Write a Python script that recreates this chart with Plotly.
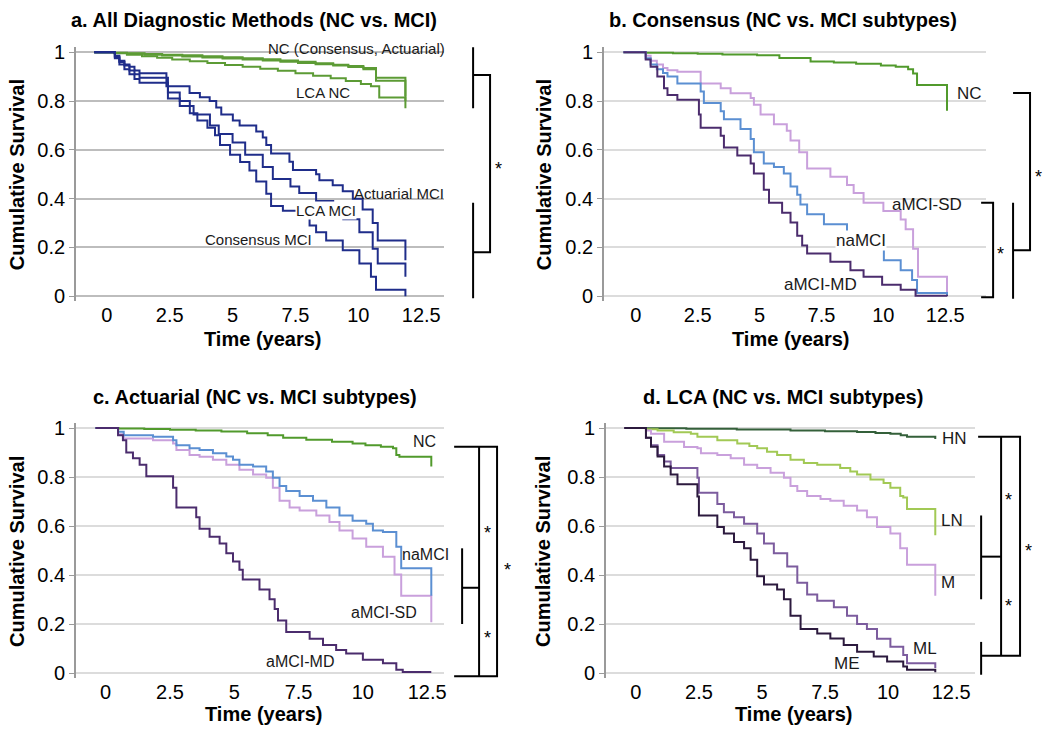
import plotly.graph_objects as go

# ---------------- data (time in years, cumulative survival) ----------------
# Panel a
a_nc_cons_t = [-0.5, 0.3, 0.8, 1.5, 2.2, 3.0, 3.8, 4.6, 5.4, 6.2, 6.9, 7.6, 8.3, 9.0, 9.6, 10.2, 10.7, 11.87]
a_nc_cons_s = [1.0, 0.998, 0.996, 0.993, 0.99, 0.987, 0.983, 0.979, 0.975, 0.971, 0.966, 0.961, 0.955, 0.949, 0.943, 0.935, 0.895, 0.82]
a_nc_act_t = [-0.5, 0.3, 0.8, 1.5, 2.2, 3.0, 3.8, 4.6, 5.4, 6.2, 6.9, 7.6, 8.3, 9.0, 9.6, 10.2, 10.7, 11.87]
a_nc_act_s = [1.0, 0.997, 0.994, 0.99, 0.986, 0.982, 0.978, 0.974, 0.97, 0.966, 0.961, 0.956, 0.951, 0.945, 0.939, 0.93, 0.883, 0.80]
a_nc_lca_t = [-0.5, 0.3, 0.8, 1.4, 2.0, 2.6, 3.3, 4.0, 4.7, 5.4, 6.1, 6.8, 7.5, 8.2, 8.9, 9.5, 10.1, 10.5, 10.83, 11.87]
a_nc_lca_s = [1.0, 0.996, 0.99, 0.983, 0.977, 0.97, 0.963, 0.956, 0.948, 0.94, 0.932, 0.924, 0.914, 0.904, 0.893, 0.882, 0.87, 0.86, 0.814, 0.77]
a_mci_act_t = [-0.5, 0.32, 0.5, 0.7, 0.9, 1.1, 1.3, 2.37, 3.29, 3.7, 4.09, 4.35, 4.55, 5.01, 5.28, 5.94, 6.2, 6.34, 6.53, 7.26, 7.4, 8.32, 8.45, 8.98, 9.38, 9.78, 10.17, 10.57, 10.77, 11.87]
a_mci_act_s = [1.0, 0.98, 0.965, 0.95, 0.94, 0.925, 0.914, 0.86, 0.833, 0.815, 0.80, 0.773, 0.745, 0.72, 0.70, 0.675, 0.65, 0.62, 0.585, 0.551, 0.517, 0.50, 0.475, 0.455, 0.43, 0.40, 0.355, 0.30, 0.228, 0.148]
a_mci_lca_t = [-0.5, 0.32, 0.5, 0.7, 0.9, 1.1, 1.3, 2.43, 2.9, 3.3, 3.45, 4.1, 4.45, 5.0, 5.5, 6.2, 6.6, 7.3, 7.65, 8.32, 9.0, 9.4, 10.04, 10.57, 10.77, 11.87]
a_mci_lca_s = [1.0, 0.985, 0.96, 0.945, 0.925, 0.91, 0.895, 0.835, 0.80, 0.78, 0.745, 0.70, 0.665, 0.63, 0.58, 0.53, 0.48, 0.45, 0.423, 0.39, 0.36, 0.316, 0.262, 0.195, 0.134, 0.08]
a_mci_cons_t = [-0.5, 0.32, 0.5, 0.7, 0.9, 1.1, 1.3, 2.43, 2.9, 3.3, 3.6, 4.0, 4.3, 4.5, 4.9, 5.3, 5.67, 5.94, 6.34, 6.53, 7.0, 7.66, 8.06, 8.32, 8.72, 9.38, 10.04, 10.5, 10.7, 11.87]
a_mci_cons_s = [1.0, 0.975, 0.95, 0.93, 0.91, 0.89, 0.875, 0.81, 0.78, 0.75, 0.72, 0.69, 0.66, 0.62, 0.58, 0.55, 0.515, 0.47, 0.42, 0.37, 0.35, 0.33, 0.29, 0.262, 0.228, 0.188, 0.134, 0.08, 0.027, 0.0]

# Panel b (Consensus)
b_nc_t = [-0.5, 0.4, 1.5, 2.5, 3.5, 4.9, 5.8, 7.06, 8.0, 8.9, 9.9, 10.5, 11.0, 11.2, 11.36, 12.57]
b_nc_s = [1.0, 0.998, 0.996, 0.994, 0.991, 0.987, 0.976, 0.962, 0.958, 0.953, 0.946, 0.94, 0.93, 0.913, 0.866, 0.76]
b_sd_t = [-0.5, 0.4, 0.6, 0.85, 1.1, 1.28, 1.68, 2.62, 3.43, 3.83, 4.64, 4.77, 5.04, 5.58, 6.1, 6.25, 6.6, 6.92, 7.86, 8.53, 8.8, 9.2, 10.0, 10.7, 10.9, 11.2, 11.4, 12.57]
b_sd_s = [1.0, 0.985, 0.965, 0.95, 0.935, 0.926, 0.92, 0.872, 0.852, 0.832, 0.812, 0.785, 0.745, 0.705, 0.678, 0.638, 0.59, 0.523, 0.49, 0.456, 0.423, 0.383, 0.349, 0.315, 0.275, 0.195, 0.08, 0.007]
b_na_t = [-0.5, 0.4, 0.6, 0.85, 1.1, 1.28, 1.68, 2.62, 2.75, 3.43, 3.56, 4.23, 4.64, 4.77, 5.17, 5.58, 5.98, 6.25, 6.52, 6.65, 6.92, 7.6, 8.53, 9.3, 10.02, 10.7, 11.16, 11.36, 12.57]
b_na_s = [1.0, 0.975, 0.95, 0.93, 0.915, 0.9, 0.872, 0.839, 0.792, 0.758, 0.725, 0.685, 0.644, 0.59, 0.544, 0.53, 0.503, 0.45, 0.416, 0.376, 0.336, 0.295, 0.262, 0.195, 0.148, 0.107, 0.067, 0.013, 0.005]
b_md_t = [-0.5, 0.4, 0.6, 0.87, 1.14, 1.28, 1.68, 2.55, 2.62, 3.43, 3.56, 4.1, 4.64, 4.77, 5.17, 5.38, 5.91, 6.25, 6.52, 6.72, 6.92, 7.86, 8.67, 9.2, 9.95, 10.7, 11.3, 12.57]
b_md_s = [1.0, 0.97, 0.94, 0.9, 0.852, 0.825, 0.805, 0.745, 0.69, 0.658, 0.61, 0.577, 0.544, 0.503, 0.436, 0.383, 0.342, 0.302, 0.248, 0.208, 0.175, 0.141, 0.107, 0.08, 0.047, 0.027, 0.002, 0.0]

# Panel c (Actuarial)
c_nc_t = [-0.4, 0.5, 1.5, 2.5, 3.5, 4.5, 5.5, 6.3, 6.9, 7.8, 8.8, 9.6, 10.1, 10.7, 11.17, 11.3, 11.42, 12.66]
c_nc_s = [1.0, 0.998, 0.996, 0.993, 0.99, 0.986, 0.979, 0.97, 0.96, 0.952, 0.944, 0.937, 0.93, 0.924, 0.917, 0.89, 0.883, 0.843]
c_na_t = [-0.4, 0.48, 0.7, 1.84, 2.62, 2.75, 3.26, 3.65, 4.17, 4.69, 4.95, 5.2, 5.73, 6.24, 6.5, 6.76, 7.02, 7.54, 8.06, 8.58, 9.09, 9.6, 10.13, 10.39, 10.78, 11.3, 11.49, 12.66]
c_na_s = [1.0, 0.985, 0.97, 0.964, 0.95, 0.93, 0.917, 0.91, 0.897, 0.884, 0.87, 0.85, 0.843, 0.823, 0.797, 0.763, 0.743, 0.723, 0.703, 0.676, 0.643, 0.622, 0.609, 0.582, 0.576, 0.515, 0.428, 0.315]
c_sd_t = [-0.4, 0.48, 0.7, 1.84, 2.62, 2.75, 3.26, 3.65, 4.17, 4.69, 5.2, 5.73, 6.24, 6.5, 6.76, 7.15, 7.54, 8.19, 8.7, 9.09, 9.6, 10.13, 10.78, 11.23, 11.49, 12.66]
c_sd_s = [1.0, 0.975, 0.957, 0.95, 0.937, 0.91, 0.89, 0.883, 0.87, 0.85, 0.83, 0.81, 0.797, 0.756, 0.703, 0.676, 0.663, 0.643, 0.616, 0.582, 0.549, 0.515, 0.475, 0.402, 0.315, 0.207]
c_md_t = [-0.4, 0.48, 0.67, 0.8, 1.06, 1.32, 1.58, 2.62, 2.75, 3.52, 3.65, 4.04, 4.43, 4.69, 4.95, 5.2, 5.33, 5.98, 6.37, 6.57, 6.7, 7.02, 7.93, 8.45, 8.96, 9.35, 10.0, 10.78, 11.3, 11.55, 12.66]
c_md_s = [1.0, 0.97, 0.95, 0.9, 0.877, 0.85, 0.803, 0.756, 0.676, 0.636, 0.589, 0.556, 0.529, 0.489, 0.455, 0.422, 0.382, 0.341, 0.301, 0.261, 0.214, 0.167, 0.14, 0.114, 0.094, 0.08, 0.054, 0.04, 0.013, 0.004, 0.004]

# Panel d (LCA)
d_hn_t = [-0.46, 0.4, 2.0, 4.0, 6.13, 7.5, 8.77, 9.5, 10.09, 10.5, 10.75, 11.87]
d_hn_s = [1.0, 0.999, 0.997, 0.994, 0.99, 0.987, 0.984, 0.98, 0.977, 0.97, 0.964, 0.955]
d_ln_t = [-0.46, 0.4, 0.86, 1.5, 2.18, 2.44, 3.23, 4.02, 4.5, 4.81, 5.2, 5.6, 6.13, 6.66, 7.19, 8.1, 8.5, 8.77, 9.3, 9.82, 10.09, 10.48, 10.6, 10.75, 11.87]
d_ln_s = [1.0, 0.995, 0.99, 0.983, 0.977, 0.964, 0.95, 0.937, 0.927, 0.917, 0.903, 0.89, 0.87, 0.857, 0.85, 0.837, 0.823, 0.81, 0.79, 0.776, 0.756, 0.723, 0.716, 0.669, 0.562]
d_m_t = [-0.46, 0.4, 0.6, 1.12, 1.91, 2.44, 2.58, 3.23, 3.76, 4.29, 4.81, 5.34, 5.87, 6.13, 6.4, 6.79, 7.32, 7.71, 8.24, 8.77, 9.16, 9.56, 10.09, 10.48, 10.75, 11.87]
d_m_s = [1.0, 0.99, 0.977, 0.944, 0.923, 0.917, 0.897, 0.89, 0.877, 0.85, 0.837, 0.817, 0.797, 0.763, 0.743, 0.723, 0.71, 0.703, 0.683, 0.663, 0.636, 0.596, 0.569, 0.509, 0.442, 0.315]
d_ml_t = [-0.46, 0.4, 0.6, 0.86, 1.12, 1.38, 2.44, 2.5, 3.23, 3.49, 3.89, 4.29, 4.81, 5.08, 5.47, 6.0, 6.4, 6.79, 7.19, 7.85, 8.37, 8.77, 9.16, 9.56, 10.09, 10.6, 10.75, 11.87]
d_ml_s = [1.0, 0.96, 0.93, 0.89, 0.863, 0.837, 0.797, 0.736, 0.69, 0.656, 0.636, 0.609, 0.569, 0.529, 0.489, 0.435, 0.368, 0.321, 0.295, 0.268, 0.234, 0.2, 0.18, 0.14, 0.107, 0.074, 0.04, 0.02]
d_me_t = [-0.46, 0.4, 0.6, 0.86, 1.12, 1.38, 1.65, 2.44, 2.5, 3.23, 3.49, 3.89, 4.29, 4.55, 4.81, 5.08, 5.6, 5.87, 6.13, 6.53, 7.19, 7.71, 8.24, 8.77, 9.43, 9.96, 10.6, 10.75, 11.87]
d_me_s = [1.0, 0.96, 0.924, 0.884, 0.843, 0.81, 0.77, 0.72, 0.643, 0.596, 0.569, 0.535, 0.509, 0.462, 0.395, 0.361, 0.341, 0.301, 0.234, 0.18, 0.161, 0.141, 0.114, 0.087, 0.067, 0.047, 0.027, 0.013, 0.003]

x_tickvals = [0, 2.5, 5, 7.5, 10, 12.5]
x_ticktext = ["0", "2.5", "5", "7.5", "10", "12.5"]
y_tickvals = [0, 0.2, 0.4, 0.6, 0.8, 1.0]
y_ticktext = ["0", "0.2", "0.4", "0.6", "0.8", "1"]

titles = ["a. All Diagnostic Methods (NC vs. MCI)", "b. Consensus (NC vs. MCI subtypes)",
          "c. Actuarial (NC vs. MCI subtypes)", "d. LCA (NC vs. MCI subtypes)"]

# colours
GREEN_A = "#5c9b35"
BLUE_A = "#1f2d8a"
GREEN = "#519a2c"
LPURP = "#c9a0dc"
LBLUE = "#5b8fd2"
DPURP = "#4b2c6d"
HN_C = "#34603a"
LN_C = "#a2c955"
ML_C = "#7c5c9e"
ME_C = "#2c1a3e"

FONT = "Liberation Sans, Arial, Helvetica, sans-serif"
W, H = 1050, 740

fig = go.Figure()

series = [
    ("x", "y", a_nc_cons_t, a_nc_cons_s, GREEN_A),
    ("x", "y", a_nc_act_t, a_nc_act_s, GREEN_A),
    ("x", "y", a_nc_lca_t, a_nc_lca_s, GREEN_A),
    ("x", "y", a_mci_act_t, a_mci_act_s, BLUE_A),
    ("x", "y", a_mci_lca_t, a_mci_lca_s, BLUE_A),
    ("x", "y", a_mci_cons_t, a_mci_cons_s, BLUE_A),
    ("x2", "y2", b_nc_t, b_nc_s, GREEN),
    ("x2", "y2", b_sd_t, b_sd_s, LPURP),
    ("x2", "y2", b_na_t, b_na_s, LBLUE),
    ("x2", "y2", b_md_t, b_md_s, DPURP),
    ("x3", "y3", c_nc_t, c_nc_s, GREEN),
    ("x3", "y3", c_sd_t, c_sd_s, LPURP),
    ("x3", "y3", c_na_t, c_na_s, LBLUE),
    ("x3", "y3", c_md_t, c_md_s, DPURP),
    ("x4", "y4", d_hn_t, d_hn_s, HN_C),
    ("x4", "y4", d_ln_t, d_ln_s, LN_C),
    ("x4", "y4", d_m_t, d_m_s, LPURP),
    ("x4", "y4", d_ml_t, d_ml_s, ML_C),
    ("x4", "y4", d_me_t, d_me_s, ME_C),
]
for xa, ya, t, s, col in series:
    fig.add_trace(go.Scatter(x=t, y=s, mode="lines", line=dict(color=col, width=2, shape="hv"),
                             xaxis=xa, yaxis=ya, showlegend=False, hoverinfo="skip"))

# axis geometry (pixel positions of plot areas)
panels = {
    # name: (left px, right px, xmin, xmax, top px, bottom px, grid colour)
    "1": (76, 445, -1.23, 13.41, 42, 300, "#bdbdbd"),
    "2": (605, 988, -1.29, 14.15, 42, 300, "#dcdcdc"),
    "3": (76, 445, -1.16, 13.16, 424, 683, "#dcdcdc"),
    "4": (607, 977, -1.19, 13.45, 424, 683, "#dcdcdc"),
}
layout = {}
for k, (l, r, xmin, xmax, t, b, gc) in panels.items():
    xn = "xaxis" if k == "1" else f"xaxis{k}"
    yn = "yaxis" if k == "1" else f"yaxis{k}"
    xid = "x" if k == "1" else f"x{k}"
    yid = "y" if k == "1" else f"y{k}"
    layout[xn] = dict(domain=[l / W, r / W], range=[xmin, xmax], anchor=yid,
                      tickvals=x_tickvals, ticktext=x_ticktext, showgrid=False, zeroline=False,
                      showline=False, ticks="", tickfont=dict(size=20, color="black", family=FONT))
    layout[yn] = dict(domain=[1 - b / H, 1 - t / H], range=[-0.02, 1.02], anchor=xid,
                      tickvals=y_tickvals, ticktext=y_ticktext, showgrid=True, gridcolor=gc,
                      gridwidth=1.5, zeroline=False, showline=True, linecolor="#9a9a9a", linewidth=1.5,
                      ticks="outside", ticklen=5, tickcolor="#9a9a9a",
                      tickfont=dict(size=20, color="black", family=FONT))

ann = []
# panel titles
for txt, cx, cy in [(titles[0], 254, 14), (titles[1], 784, 14), (titles[2], 255, 397), (titles[3], 784, 397)]:
    ann.append(dict(text=f"<b>{txt}</b>", x=cx / W, y=1 - cy / H, xref="paper", yref="paper",
                    showarrow=False, xanchor="center", yanchor="middle",
                    font=dict(size=20, color="black", family=FONT)))
# axis titles
for cx, cy in [(263, 338), (792, 338), (264, 720), (795, 720)]:
    ann.append(dict(text="<b>Time (years)</b>", x=cx / W, y=1 - cy / H, xref="paper", yref="paper",
                    showarrow=False, xanchor="center", yanchor="middle",
                    font=dict(size=20, color="black", family=FONT)))
for cx, cy in [(17, 171), (545, 171), (17, 554), (544, 554)]:
    ann.append(dict(text="<b>Cumulative Survival</b>", x=cx / W, y=1 - cy / H, xref="paper", yref="paper",
                    showarrow=False, xanchor="center", yanchor="middle", textangle=-90,
                    font=dict(size=20, color="black", family=FONT)))

# curve labels (data coordinates)
labels = [
    ("x", "y", "NC (Consensus, Actuarial)", 9.92, 1.016, 15, False),
    ("x", "y", "LCA NC", 8.6, 0.835, 15, False),
    ("x", "y", "Actuarial MCI", 11.63, 0.423, 15, False),
    ("x", "y", "LCA MCI", 8.72, 0.353, 15, True),
    ("x", "y", "Consensus MCI", 6.03, 0.233, 15, False),
    ("x2", "y2", "NC", 13.47, 0.832, 17, False),
    ("x2", "y2", "aMCI-SD", 11.76, 0.376, 17, False),
    ("x2", "y2", "naMCI", 9.1, 0.228, 17, True),
    ("x2", "y2", "aMCI-MD", 7.46, 0.047, 17, False),
    ("x3", "y3", "NC", 12.4, 0.944, 16, False),
    ("x3", "y3", "naMCI", 12.45, 0.482, 16, False),
    ("x3", "y3", "aMCI-SD", 10.82, 0.248, 16, False),
    ("x3", "y3", "aMCI-MD", 7.56, 0.047, 16, False),
    ("x4", "y4", "HN", 12.62, 0.957, 17, False),
    ("x4", "y4", "LN", 12.55, 0.622, 17, False),
    ("x4", "y4", "M", 12.39, 0.368, 17, False),
    ("x4", "y4", "ML", 11.47, 0.10, 17, False),
    ("x4", "y4", "ME", 8.37, 0.04, 17, False),
]
for xa, ya, txt, x, y, sz, bg in labels:
    a = dict(text=txt, x=x, y=y, xref=xa, yref=ya, showarrow=False, xanchor="center", yanchor="middle",
             font=dict(size=sz, color="#1a1a1a", family=FONT))
    if bg:
        a["bgcolor"] = "white"
        a["borderpad"] = 0
    ann.append(a)

# significance brackets: (yref, [(x_px, y_value), ...]) polylines
brackets = [
    ("y", [(474, 1.03), (474, 0.77)]),
    ("y", [(474, 0.383), (474, -0.008)]),
    ("y", [(474, 0.907), (491, 0.907), (491, 0.18), (474, 0.18)]),
    ("y2", [(1015, 0.833), (1032, 0.833), (1032, 0.188), (1015, 0.188)]),
    ("y2", [(1015, 0.383), (1015, -0.01)]),
    ("y2", [(983, 0.383), (995, 0.383), (995, -0.004), (983, -0.004)]),
    ("y3", [(463, 0.509), (463, 0.2)]),
    ("y3", [(463, 0.348), (480, 0.348)]),
    ("y3", [(480, 0.924), (480, -0.013)]),
    ("y3", [(455, 0.924), (498, 0.924), (498, -0.013), (455, -0.013)]),
    ("y4", [(980, 0.964), (1022, 0.964), (1022, 0.07), (983, 0.07)]),
    ("y4", [(1003, 0.964), (1003, 0.07)]),
    ("y4", [(983, 0.643), (983, 0.301)]),
    ("y4", [(983, 0.475), (1003, 0.475)]),
    ("y4", [(983, 0.127), (983, -0.007)]),
]
shapes = []
for yref, pts in brackets:
    path = "M " + " L ".join(f"{px / W:.5f},{yv}" for px, yv in pts)
    shapes.append(dict(type="path", path=path, xref="paper", yref=yref,
                       line=dict(color="black", width=2)))

stars = [("y", 499, 0.537), ("y2", 1040, 0.504), ("y2", 1002, 0.188),
         ("y3", 488, 0.589), ("y3", 488, 0.16), ("y3", 508, 0.435),
         ("y4", 1010, 0.723), ("y4", 1010, 0.288), ("y4", 1030, 0.515)]
for yref, px, yv in stars:
    ann.append(dict(text="*", x=px / W, y=yv, xref="paper", yref=yref, showarrow=False,
                    xanchor="center", yanchor="middle", yshift=-4,
                    font=dict(size=18, color="black", family=FONT)))

fig.update_layout(width=W, height=H, margin=dict(l=0, r=0, t=0, b=0),
                  paper_bgcolor="white", plot_bgcolor="white", showlegend=False,
                  annotations=ann, shapes=shapes, **layout)

fig.write_html("out.html", config={"displayModeBar": False},
               post_script="document.body.style.margin='0';")
